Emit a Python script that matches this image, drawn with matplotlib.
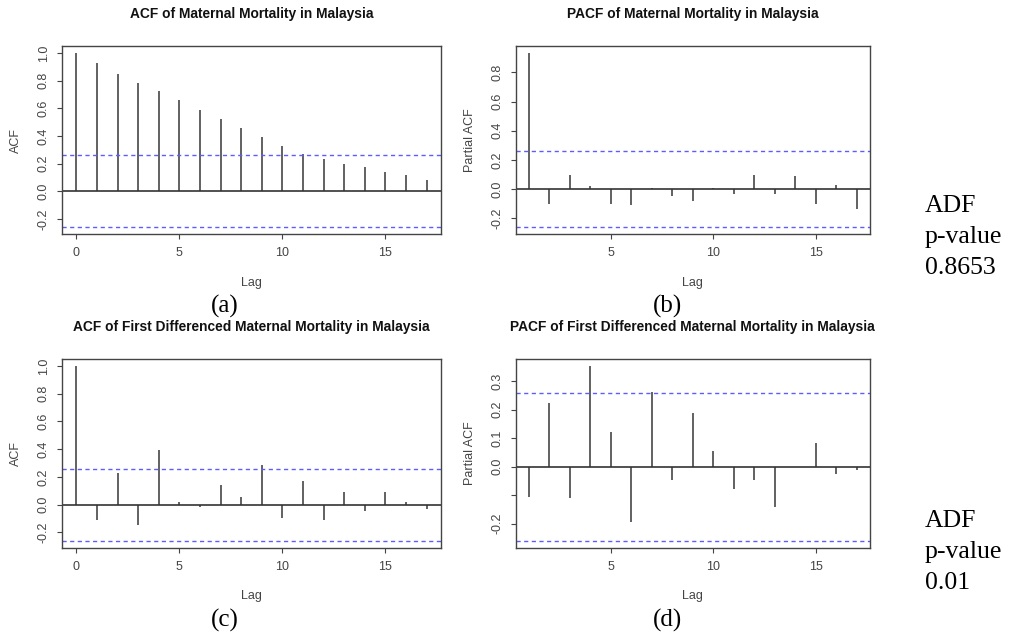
import matplotlib
matplotlib.use('Agg')
import matplotlib.pyplot as plt
import numpy as np

W, H = 1018, 639

# values
lags_acf = np.arange(0, 18)
lags_pacf = np.arange(1, 18)
acf_level = [1.0, 0.930, 0.846, 0.781, 0.725, 0.663, 0.591, 0.523, 0.460,
             0.393, 0.330, 0.272, 0.236, 0.200, 0.176, 0.142, 0.116, 0.080]
pacf_level = [0.933, -0.103, 0.094, 0.025, -0.103, -0.108, 0.007, -0.044, -0.080,
              0.009, -0.030, 0.100, -0.034, 0.089, -0.103, 0.032, -0.138]
acf_diff = [1.0, -0.111, 0.229, -0.147, 0.396, 0.017, -0.014, 0.145, 0.053,
            0.283, -0.099, 0.171, -0.111, 0.094, -0.046, 0.094, 0.019, -0.034]
pacf_diff = [-0.105, 0.223, -0.109, 0.353, 0.122, -0.195, 0.261, -0.046, 0.188,
             0.054, -0.079, -0.046, -0.142, -0.002, 0.083, -0.026, -0.013]
ci = 0.259

titles = ['ACF of Maternal Mortality in Malaysia',
          'PACF of Maternal Mortality in Malaysia',
          'ACF of First Differenced Maternal Mortality in Malaysia',
          'PACF of First Differenced Maternal Mortality in Malaysia']
ylabels = ['ACF', 'Partial ACF', 'ACF', 'Partial ACF']
panel_tags = ['(a)', '(b)', '(c)', '(d)']
adf_pvalues = ['0.8653', '0.01']

sans = 'Liberation Sans'
serif = 'Liberation Serif'
grey = '#555555'

fig = plt.figure(figsize=(W / 100, H / 100), dpi=100)


def px_axes(l, t, r, b):
    return fig.add_axes([l / W, 1 - b / H, (r - l) / W, (b - t) / H])


def fx(x):
    return x / W


def fy(y):
    return 1 - y / H


boxes = [(62.3, 46, 440.7, 234), (515.7, 46, 869.7, 234),
         (62.3, 359, 440.7, 547.5), (515.7, 359, 869.7, 547.5)]
series = [(lags_acf, acf_level), (lags_pacf, pacf_level),
          (lags_acf, acf_diff), (lags_pacf, pacf_diff)]
yticks = [[-0.2, 0.0, 0.2, 0.4, 0.6, 0.8, 1.0],
          [-0.2, 0.0, 0.2, 0.4, 0.6, 0.8],
          [-0.2, 0.0, 0.2, 0.4, 0.6, 0.8, 1.0],
          [-0.2, -0.1, 0.0, 0.1, 0.2, 0.3]]
tag_x = [225, 668, 225, 668]
tag_y = [306, 306, 620, 620]

for i in range(4):
    l, t, r, b = boxes[i]
    ax = px_axes(l, t, r, b)
    x, y = series[i]
    x = np.asarray(x)
    y = np.asarray(y)
    ax.vlines(x, 0, y, color=grey, lw=1.3)
    ax.axhline(0, color='#333333', lw=1.2)
    for c in (ci, -ci):
        ax.axhline(c, color='#5c5cff', lw=1.0, ls=(0, (3, 2.5)))
    # R style limits: 4% padding
    xlo, xhi = x.min(), x.max()
    dx = 0.04 * (xhi - xlo)
    ax.set_xlim(xlo - dx, xhi + dx)
    ylo, yhi = min(y.min(), -ci), max(y.max(), ci)
    dy = 0.04 * (yhi - ylo)
    ax.set_ylim(ylo - dy, yhi + dy)
    ax.set_xticks([v for v in [0, 5, 10, 15] if v >= xlo])
    ax.set_yticks(yticks[i])
    labs = ['%.1f' % v for v in yticks[i]]
    if i == 3:
        labs = [s if s != '-0.1' else '' for s in labs]
    ax.set_yticklabels(labs, rotation=90, va='center')
    ax.tick_params(axis='both', length=3.6, width=0.8, color='#444444',
                   labelsize=9, labelcolor='#444444')
    ax.tick_params(axis='x', pad=6)
    ax.tick_params(axis='y', pad=5.5)
    for lab in ax.get_xticklabels() + ax.get_yticklabels():
        lab.set_family(sans)
    for s in ax.spines.values():
        s.set_color('#444444')
        s.set_linewidth(1.0)

    cx = (l + r) / 2
    fig.text(fx(cx), fy(t - 32), titles[i], ha='center', va='center',
             family=sans, fontweight='bold', fontsize=9.9, color='#111111')
    fig.text(fx(cx), fy(b + 49), 'Lag', ha='center', va='center',
             family=sans, fontsize=9, color='#444444')
    fig.text(fx(l - 46), fy((t + b) / 2), ylabels[i], ha='center', va='center',
             rotation=90, family=sans, fontsize=9, color='#444444')
    fig.text(fx(tag_x[i]), fy(tag_y[i]), panel_tags[i], ha='center', va='center',
             family=serif, fontsize=18, color='black')

for k, top in enumerate([212, 527]):
    for j, line in enumerate(['ADF', 'p-value', adf_pvalues[k]]):
        fig.text(fx(925), fy(top + 31 * j), line, ha='left', va='baseline',
                 family=serif, fontsize=18.5, color='black')

fig.savefig('out.png', dpi=100)
